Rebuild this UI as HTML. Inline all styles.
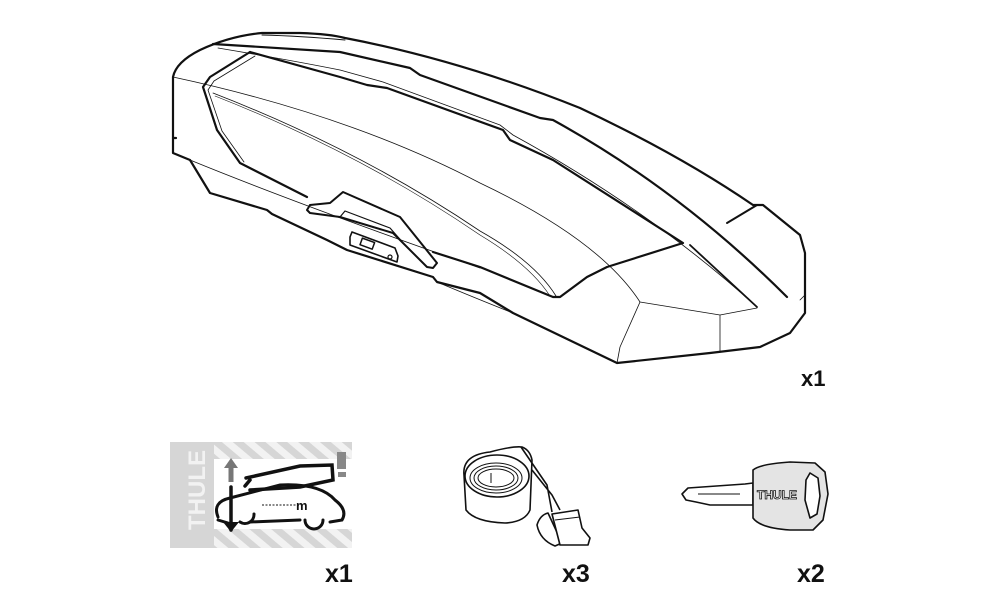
<!DOCTYPE html>
<html><head><meta charset="utf-8"><style>
html,body{margin:0;padding:0;background:#fff;}
svg{display:block}
text{font-family:"Liberation Sans",sans-serif;font-weight:bold;}
</style></head><body>
<svg width="1000" height="600" viewBox="0 0 1000 600" xmlns="http://www.w3.org/2000/svg">
<defs>
<pattern id="st" width="14" height="14" patternUnits="userSpaceOnUse" patternTransform="rotate(-50)">
<rect width="14" height="14" fill="#d6d6d6"/><rect width="7" height="14" fill="#f2f2f2"/>
</pattern>
</defs>
<g fill="none" stroke="#111" stroke-width="2.2" stroke-linejoin="round" stroke-linecap="round">
<!-- outer outline -->
<path d="M173,153 L173,77 Q176,62 200,50 Q230,36 262,33 L300,33 Q330,34 345,38 Q460,60 580,108 Q680,155 753,205 L763,205 L800,235 L805,253 L805,313 L790,333 L760,347 L710,353 L617,363 L513,313 L480,293 L437,282 L433,277 L347,250 L327,240 L272,214 L267,210 L210,193 L190,160 Z"/>
<path d="M173,138 L176,138"/>
<path d="M262,35 Q300,36 345,40" stroke-width="1"/>
<!-- rim line -->
<path d="M213,44 Q280,48 340,52 L410,68 L420,75 L540,118 L553,120 Q680,190 787,297" stroke-width="2.2"/>
<path d="M218,48 Q290,60 340,70 L383,82 L500,125 L513,135 Q650,210 757,307" stroke-width="0.8"/>
<path d="M727,223 L757,205" stroke-width="2"/>
<path d="M800,300 L805,295" stroke-width="0.8"/>
<!-- lid window -->
<path d="M250,52 L210,77 L203,87 L217,130 L240,163 L307,197" stroke-width="2.2"/>
<path d="M250,52 L340,77 L367,85 L387,88 L503,130 L510,140 L553,160 L683,243 L607,267 L587,277 L560,297 L553,297 L480,267 L433,252" stroke-width="2.2"/>
<path d="M255,56 L214,81 L208,90 L222,131 L244,162" stroke-width="0.8"/>
<path d="M690,245 L757,307" stroke-width="1.8"/>
<!-- inner thin lines -->
<path d="M173,77 Q350,115 480,183 Q600,240 640,302" stroke-width="0.8"/>
<path d="M213,93 Q360,150 480,231 Q535,262 556,296" stroke-width="0.8"/>
<path d="M215,96 Q360,153 480,235 Q530,265 550,296" stroke-width="0.6"/>
<path d="M640,302 L720,315 L757,308 M720,315 L720,352 M640,302 L620,347 L617,363" stroke-width="0.8"/>
<path d="M190,160 Q300,205 480,268" stroke-width="0.8"/>
<path d="M437,282 Q480,300 513,313" stroke-width="0.8"/>
<!-- handle -->
<path d="M307,210 L310,205 L330,203 L343,192 L400,217 L437,263 L433,268 L427,267 L393,233 L340,217 L310,213 Z" stroke-width="2"/>
<path d="M340,217 L345,211 L390,228 L405,245" stroke-width="1.2"/>
<!-- lock -->
<path d="M350,237 L352,232 L395,248 L398,256 L397,262 L350,245 Z" stroke-width="1.6"/>
<rect x="361" y="240" width="13" height="7" transform="rotate(20 367 243)" stroke-width="1.5"/>
<circle cx="390" cy="257" r="2" stroke-width="1.2"/>
</g>

<!-- sticker -->
<rect x="170" y="442" width="182" height="106" fill="#d6d6d6"/>
<rect x="214" y="442" width="138" height="106" fill="url(#st)"/>
<rect x="214" y="459" width="138" height="70" fill="#fff"/>
<text x="0" y="0" transform="translate(205,530) rotate(-90)" font-size="24" fill="#f2f2f2" style="font-weight:900">THULE</text>
<g stroke="#111" fill="none" stroke-width="3.5" stroke-linecap="round">
<path d="M231,487 L231,530"/>
<path d="M246,478 L300,466 L332,465 L333,480 L300,487 L250,490 M250,480 L245,486"/>
<path d="M218,517 Q212,502 230,498 L280,485 Q320,483 335,500 Q348,510 342,520 L330,522 M300,520 L250,522 M218,520 L228,523" stroke-width="3"/>
<path d="M240,522 a9,9 0 0,0 14,-8 M305,520 a9,9 0 0,0 18,0" stroke-width="3"/>
</g>
<path d="M231,482 L231,466" stroke="#777" stroke-width="5"/>
<polygon points="224,468 238,468 231,458" fill="#777"/>
<polygon points="223,522 239,522 231,532" fill="#111"/>
<rect x="337" y="452" width="9" height="17" fill="#888"/>
<rect x="338" y="472" width="8" height="5" fill="#888"/>
<path d="M262,505 L300,505" stroke="#111" stroke-width="1" stroke-dasharray="2,1.5"/>
<text x="296" y="510" font-size="13" font-weight="normal" fill="#111">m</text>

<!-- strap -->
<g fill="none" stroke="#111" stroke-width="1.6" stroke-linejoin="round">
<path d="M464,475 Q462,455 490,452 Q512,446 522,447 Q530,450 532,460 L530,510 Q525,522 505,523 Q475,522 466,510 Z" fill="#fff"/>
<path d="M521,447 L547,485 L552,512 M532,470 L552,495 L560,510" />
<ellipse cx="497" cy="476" rx="32" ry="21"/>
<ellipse cx="496" cy="478" rx="26" ry="15" stroke-width="1"/>
<ellipse cx="496" cy="478" rx="22" ry="12" stroke-width="1"/>
<ellipse cx="496" cy="478" rx="18" ry="9" stroke-width="1"/>
<path d="M491,473 L491,483" stroke-width="1"/>
<path d="M537,525 Q540,515 548,513 L562,543 L555,546 Q540,540 537,525 Z" fill="#fff"/>
<path d="M552,514 L578,510 L582,528 L590,538 L588,545 L560,545 Z" fill="#fff"/>
<path d="M555,520 L580,517" stroke-width="1"/>
</g>

<!-- key -->
<g fill="none" stroke="#111" stroke-width="1.6" stroke-linejoin="round">
<path d="M682,494 L688,488 L745,484 L753,483 L753,505 L710,505 L696,502 L686,500 Z"/>
<path d="M698,494 L740,494" stroke-width="1"/>
<path d="M753,470 Q760,464 790,462 L815,463 L825,472 L828,494 L823,520 L813,530 L790,530 Q760,528 753,518 Z" fill="#e4e4e4"/>
<path d="M810,473 L818,478 L820,496 L817,514 L810,518 L805,500 L806,480 Z" fill="#fff"/>
</g>
<text x="757" y="499" font-size="12" fill="#fff" stroke="#111" stroke-width="0.8">THULE</text>

<!-- labels -->
<text x="801" y="386" font-size="22" fill="#111">x1</text>
<text x="325" y="582" font-size="25" fill="#111">x1</text>
<text x="562" y="582" font-size="25" fill="#111">x3</text>
<text x="797" y="582" font-size="25" fill="#111">x2</text>
</svg>
</body></html>
